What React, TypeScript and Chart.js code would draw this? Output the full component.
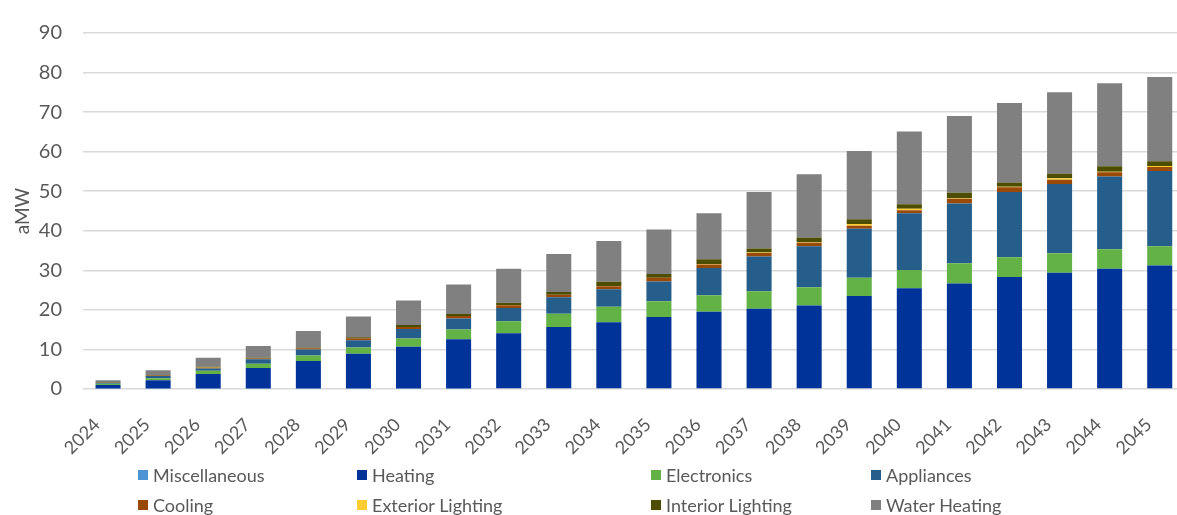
import React, { useEffect, useRef } from "react";
import { Chart, registerables } from "chart.js";

Chart.register(...registerables);

const years = ["2024","2025","2026","2027","2028","2029","2030","2031","2032","2033","2034","2035","2036","2037","2038","2039","2040","2041","2042","2043","2044","2045"];

const miscellaneous = [0.1,0.1,0.1,0.1,0.15,0.1,0.15,0.15,0.2,0.2,0.2,0.2,0.2,0.2,0.2,0.2,0.2,0.2,0.2,0.2,0.2,0.2];
const heating = [0.9,2.1,3.7,5.2,6.9,8.8,10.5,12.4,13.9,15.5,16.7,18.0,19.3,20.1,20.9,23.3,25.3,26.5,28.1,29.2,30.2,31.0];
const electronics = [0.3,0.5,0.8,1.1,1.4,1.6,2.1,2.5,3.0,3.3,3.9,4.0,4.2,4.4,4.6,4.6,4.6,5.1,5.0,4.9,4.9,4.9];
const appliances = [0.3,0.6,0.6,1.1,1.55,1.8,2.4,2.8,3.4,4.2,4.4,5.0,6.9,8.8,10.4,12.4,14.3,15.1,16.5,17.5,18.4,19.0];
const cooling = [0.05,0.1,0.2,0.2,0.3,0.5,0.5,0.6,0.7,0.6,0.8,0.9,0.9,0.9,0.9,0.8,0.8,1.2,1.2,1.1,1.1,1.0];
const exteriorLighting = [0.02,0.02,0.02,0.02,0.02,0.02,0.02,0.03,0.03,0.05,0.05,0.05,0.1,0.1,0.1,0.4,0.4,0.15,0.1,0.4,0.15,0.3];
const interiorLighting = [0.08,0.13,0.18,0.18,0.2,0.28,0.48,0.47,0.57,0.65,1.05,0.95,1.2,1.0,1.2,1.2,1.1,1.35,1.1,1.2,1.35,1.2];
const waterHeating = [0.45,1.2,2.3,3.0,4.15,5.2,6.2,7.5,8.6,9.6,10.3,11.2,11.6,14.3,16.0,17.3,18.4,19.4,20.1,20.5,21.0,21.3];

const seriesNames = ["Miscellaneous","Heating","Electronics","Appliances","Cooling","Exterior Lighting","Interior Lighting","Water Heating"];
const seriesValues = [miscellaneous, heating, electronics, appliances, cooling, exteriorLighting, interiorLighting, waterHeating];
const seriesColors = ["#4D94D4","#00339A","#63B246","#255E8A","#9A4A08","#FFCC33","#4D4D00","#808080"];

const yTickValues = [0,10,20,30,40,50,60,70,80,90];

const legendColumnsX = [138, 357, 651, 871];
const legendRowsY = [475, 505];

const TEXT = "#595959";
const FONT = "Lato, 'Open Sans', sans-serif";

export default function App() {
  const ref = useRef<HTMLCanvasElement>(null);

  useEffect(() => {
    document.body.style.margin = "0";
    document.body.style.overflow = "hidden";
    const chart = new Chart(ref.current!, {
      type: "bar",
      data: {
        labels: years,
        datasets: seriesNames.map((name, i) => ({
          label: name,
          data: seriesValues[i],
          backgroundColor: seriesColors[i],
          borderWidth: 0,
          barPercentage: 0.5,
          categoryPercentage: 1.0,
        })),
      },
      options: {
        animation: false,
        responsive: false,
        maintainAspectRatio: false,
        layout: { padding: { top: 24, bottom: 46, left: 0, right: 0 } },
        plugins: { legend: { display: false }, tooltip: { enabled: false } },
        scales: {
          x: {
            stacked: true,
            grid: { display: false },
            border: { display: false },
            ticks: {
              color: TEXT,
              font: { family: FONT, size: 18 },
              minRotation: 45,
              maxRotation: 45,
              padding: 17,
              labelOffset: -11,
              autoSkip: false,
            },
            afterFit: (s: any) => { s.height = 80; },
          },
          y: {
            stacked: true,
            min: yTickValues[0],
            max: yTickValues[yTickValues.length - 1],
            ticks: {
              stepSize: 10,
              color: TEXT,
              font: { family: FONT, size: 20 },
              padding: 21,
            },
            grid: { color: "#D9D9D9", lineWidth: 1.5, drawTicks: false },
            border: { display: false },
            title: {
              display: true,
              text: "aMW",
              color: TEXT,
              font: { family: FONT, size: 19 },
              padding: { top: 11, bottom: 0 },
            },
            afterFit: (s: any) => { s.width = 83; },
          },
        },
      },
    });
    return () => chart.destroy();
  }, []);

  return (
    <div style={{ position: "relative", width: 1177, height: 515, overflow: "hidden", background: "#fff" }}>
      <canvas ref={ref} width={1192} height={515} style={{ position: "absolute", left: 0, top: 0 }} />
      {seriesNames.map((name, i) => (
        <div
          key={name}
          style={{
            position: "absolute",
            left: legendColumnsX[i % 4],
            top: legendRowsY[Math.floor(i / 4)] - 11,
            height: 22,
            display: "flex",
            alignItems: "center",
            fontFamily: FONT,
            fontSize: 18,
            color: TEXT,
            whiteSpace: "nowrap",
          }}
        >
          <span style={{ display: "inline-block", width: 10, height: 10, background: seriesColors[i], marginRight: 5 }} />
          <span>{name}</span>
        </div>
      ))}
    </div>
  );
}
